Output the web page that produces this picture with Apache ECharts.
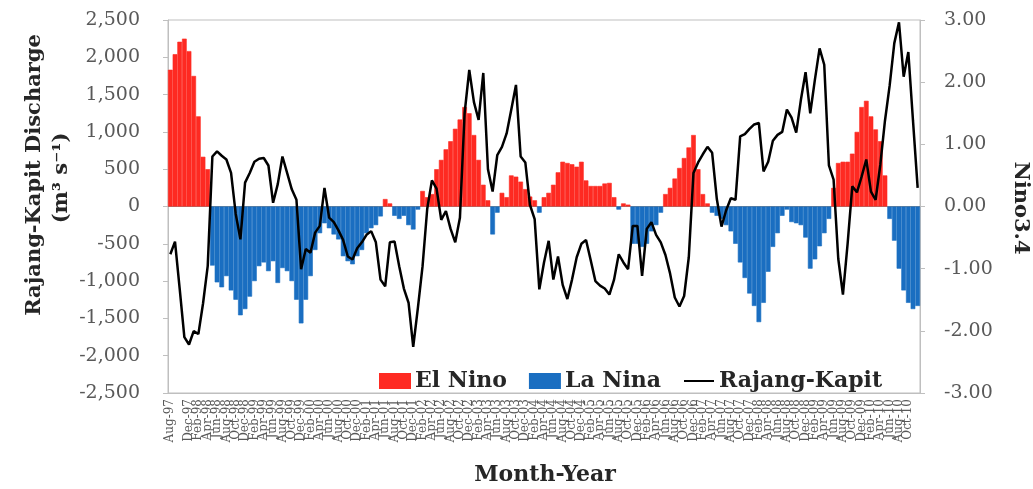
<!DOCTYPE html>
<html><head><meta charset="utf-8">
<script src="https://cdn.jsdelivr.net/npm/echarts@6/dist/echarts.min.js"></script>
<style>html,body{margin:0;padding:0;background:#fff}#c{width:1033px;height:489px}</style>
</head><body><div id="c"></div>
<script>
// Month labels: Aug-97 ... Dec-10
const monthNames = ['Jan','Feb','Mar','Apr','May','Jun','Jul','Aug','Sep','Oct','Nov','Dec'];
const firstYear = 1997, firstMonth = 7, monthCount = 161;
const categories = [];
for (let k = 0; k < monthCount; k++) {
  const m = (firstMonth + k) % 12;
  const y = firstYear + Math.floor((firstMonth + k) / 12);
  categories.push(monthNames[m] + '-' + String(y % 100).padStart(2, '0'));
}

// Nino3.4 index (right axis)
const ninoValues = [
  2.2, 2.45, 2.65, 2.7, 2.5, 2.1, 1.45, 0.8, 0.6, -0.95,
  -1.22, -1.3, -1.12, -1.35, -1.5, -1.75, -1.65, -1.45, -1.2, -0.96,
  -0.9, -1.04, -0.88, -1.23, -0.99, -1.04, -1.2, -1.5, -1.88, -1.5,
  -1.12, -0.7, -0.43, -0.27, -0.35, -0.45, -0.53, -0.8, -0.88, -0.93,
  -0.8, -0.7, -0.43, -0.35, -0.3, -0.16, 0.12, 0.05, -0.15, -0.2,
  -0.15, -0.3, -0.37, -0.05, 0.25, 0.15, 0.2, 0.6, 0.75, 0.92,
  1.05, 1.25, 1.4, 1.6, 1.5, 1.15, 0.75, 0.35, 0.1, -0.45,
  -0.1, 0.22, 0.15, 0.5, 0.48, 0.4, 0.28, 0.16, 0.1, -0.1,
  0.15, 0.22, 0.35, 0.55, 0.72, 0.7, 0.68, 0.64, 0.72, 0.42,
  0.33, 0.33, 0.33, 0.37, 0.38, 0.15, -0.05, 0.05, 0.03, -0.6,
  -0.6, -0.65, -0.6, -0.4, -0.3, -0.1, 0.2, 0.3, 0.45, 0.62,
  0.78, 0.95, 1.15, 0.6, 0.2, 0.05, -0.1, -0.15, -0.2, -0.3,
  -0.4, -0.6, -0.9, -1.15, -1.4, -1.6, -1.86, -1.55, -1.05, -0.65,
  -0.43, -0.15, -0.05, -0.25, -0.27, -0.3, -0.5, -1.0, -0.85, -0.64,
  -0.43, -0.2, 0.3, 0.7, 0.72, 0.72, 0.85, 1.2, 1.6, 1.7,
  1.45, 1.24, 1.05, 0.5, -0.2, -0.55, -1.0, -1.35, -1.55, -1.65,
  -1.6
];

// Rajang-Kapit discharge anomaly, m3/s (left axis)
const dischargeValues = [
  -640, -470, -1100, -1750, -1850, -1670, -1710, -1300, -800, 670,
  740, 680, 630, 450, -100, -440, 320, 450, 600, 640,
  650, 550, 50, 300, 670, 450, 230, 90, -840, -570,
  -620, -350, -260, 250, -150, -210, -320, -450, -670, -710,
  -560, -480, -380, -330, -480, -980, -1070, -480, -470, -800,
  -1100, -1290, -1880, -1360, -800, -30, 350, 240, -180, -60,
  -300, -480, -150, 1250, 1830, 1400, 1160, 1790, 500, 200,
  690, 800, 980, 1300, 1630, 670, 590, 20, -170, -1110,
  -750, -460, -980, -670, -1050, -1240, -980, -680, -500, -450,
  -720, -1000, -1060, -1100, -1180, -980, -640, -750, -840, -260,
  -260, -930, -300, -210, -380, -480, -650, -900, -1220, -1340,
  -1200, -680, 450, 590, 700, 800, 720, 100, -270, -50,
  110, 90, 940, 970, 1040, 1100, 1120, 470, 600, 880,
  960, 1000, 1300, 1190, 990, 1430, 1800, 1250, 1700, 2120,
  1900, 550, 360, -700, -1180, -500, 270, 190, 400, 630,
  200, 90, 560, 1150, 1620, 2190, 2470, 1740, 2070, 1150,
  250
];

const elNino = ninoValues.map(v => v > 0 ? v : '-');
const laNina = ninoValues.map(v => v < 0 ? v : '-');

const serif = '"DejaVu Serif", "Liberation Serif", serif';
const tickColor = '#595959';
const axisGray = '#bfbfbf';
const red = '#fe2a22', blue = '#1a6ec1';

const chart = echarts.init(document.getElementById('c'), null, {renderer: 'canvas'});
chart.setOption({
  animation: false,
  backgroundColor: '#fff',
  grid: {left: 168, right: 113, top: 20, bottom: 96, show: true, borderColor: axisGray, borderWidth: 1},
  legend: {
    left: 374, top: 365, itemWidth: 30, itemHeight: 14, itemGap: 22,
    textStyle: {fontFamily: serif, fontWeight: 'bold', fontSize: 22, color: '#262626'},
    data: [
      {name: 'El Nino', icon: 'rect'},
      {name: 'La Nina', icon: 'rect'},
      {name: 'Rajang-Kapit', itemStyle: {opacity: 0}}
    ]
  },
  xAxis: [
    {
      type: 'category', data: categories, position: 'bottom',
      axisLine: {onZero: false, lineStyle: {color: axisGray}},
      axisTick: {show: false},
      axisLabel: {rotate: 90, interval: 1, fontSize: 12, color: tickColor, fontFamily: serif, margin: 6,
                  hideOverlap: false, showMinLabel: true}
    },
    {
      type: 'category', data: categories, position: 'top',
      axisLine: {onZero: true, onZeroAxisIndex: 0, lineStyle: {color: '#8c8c8c', width: 1}},
      axisTick: {inside: true, interval: 1, length: 3, lineStyle: {color: '#8c8c8c'}},
      axisLabel: {show: false}
    }
  ],
  yAxis: [
    {
      type: 'value', min: -2500, max: 2500, interval: 500, position: 'left',
      axisLine: {show: true, lineStyle: {color: axisGray}},
      axisTick: {show: true, length: 5, lineStyle: {color: axisGray}},
      splitLine: {show: false},
      axisLabel: {formatter: v => v.toLocaleString('en-US'), fontSize: 19, color: tickColor, fontFamily: serif, margin: 28}
    },
    {
      type: 'value', min: -3, max: 3, interval: 1, position: 'right',
      axisLine: {show: true, lineStyle: {color: axisGray}},
      axisTick: {show: true, length: 5, lineStyle: {color: axisGray}},
      splitLine: {show: false},
      axisLabel: {formatter: v => v.toFixed(2), fontSize: 19, color: tickColor, fontFamily: serif, margin: 24}
    }
  ],
  graphic: [
    {type: 'text', x: 35, y: 175, rotation: Math.PI / 2,
     style: {text: 'Rajang-Kapit Discharge', font: 'bold 21px ' + serif, fill: '#262626', textAlign: 'center', textVerticalAlign: 'middle'}},
    {type: 'text', x: 62, y: 178, rotation: Math.PI / 2,
     style: {text: '(m\u00B3 s\u207B\u00B9)', font: 'bold 21px ' + serif, fill: '#262626', textAlign: 'center', textVerticalAlign: 'middle'}},
    {type: 'text', x: 1020, y: 208, rotation: -Math.PI / 2,
     style: {text: 'Nino3.4', font: 'bold 21px ' + serif, fill: '#262626', textAlign: 'center', textVerticalAlign: 'middle'}},
    {type: 'text', x: 545, y: 475,
     style: {text: 'Month-Year', font: 'bold 22px ' + serif, fill: '#262626', textAlign: 'center', textVerticalAlign: 'middle'}}
  ],
  series: [
    {name: 'El Nino', type: 'bar', xAxisIndex: 0, yAxisIndex: 1, data: elNino,
     itemStyle: {color: red, borderColor: red, borderWidth: 0.6}, barCategoryGap: 0, barGap: '-100%'},
    {name: 'La Nina', type: 'bar', xAxisIndex: 0, yAxisIndex: 1, data: laNina,
     itemStyle: {color: blue, borderColor: blue, borderWidth: 0.6}, barCategoryGap: 0, barGap: '-100%'},
    {name: 'Rajang-Kapit', type: 'line', xAxisIndex: 0, yAxisIndex: 0, data: dischargeValues,
     symbol: 'none', lineStyle: {color: '#000', width: 2.5}, itemStyle: {color: '#000'}, z: 5}
  ]
});
</script>
</body></html>
